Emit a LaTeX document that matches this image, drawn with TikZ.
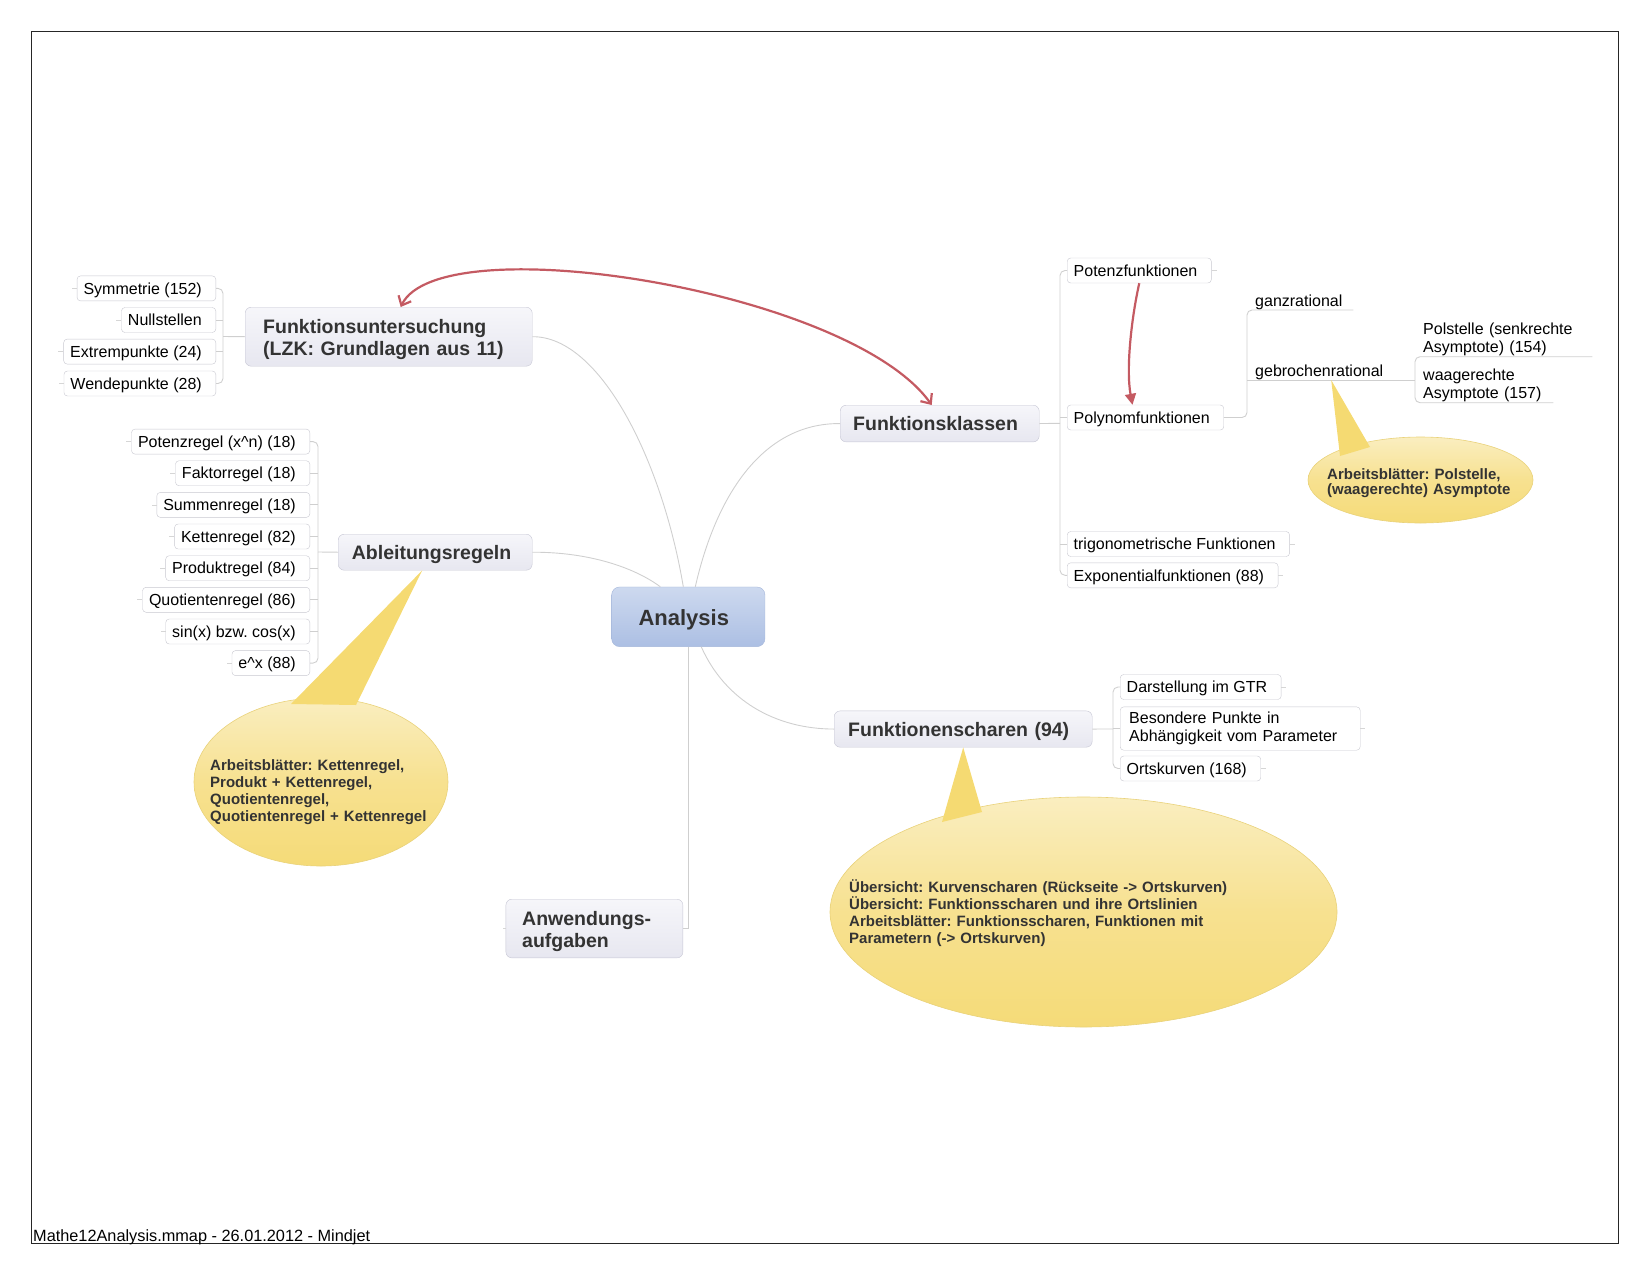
\documentclass[tikz,border=0pt]{standalone}
\usepackage{fontspec}
\setmainfont{Liberation Sans}
\frenchspacing
\usetikzlibrary{shapes.geometric,arrows.meta,calc}
\definecolor{txt}{HTML}{333333}
\definecolor{conncol}{HTML}{CFCFCF}
\definecolor{stubcol}{HTML}{D6D6D6}
\definecolor{subborder}{HTML}{C8C8D0}
\definecolor{mainborder}{HTML}{C6C6D4}
\definecolor{maintop}{HTML}{F6F6FA}
\definecolor{mainbot}{HTML}{E7E7F0}
\definecolor{roottop}{HTML}{CDD9EF}
\definecolor{rootbot}{HTML}{ACBFE3}
\definecolor{rootborder}{HTML}{A4B6DA}
\definecolor{calltop}{HTML}{FAEEC0}
\definecolor{callmid}{HTML}{F7E190}
\definecolor{callbot}{HTML}{F5DB78}
\definecolor{callborder}{HTML}{E9D27A}
\definecolor{wedgecol}{HTML}{F5DA72}
\definecolor{redline}{HTML}{C45A62}
\newcommand\fMain{\fontsize{19.5}{22}\selectfont\bfseries}
\newcommand\fSub{\fontsize{16}{18}\selectfont}
\newcommand\fCall{\fontsize{15}{17}\selectfont\bfseries}
\newcommand\fCallB{\fontsize{15}{15.5}\selectfont\bfseries}
\newcommand\fRoot{\fontsize{22}{24}\selectfont\bfseries}
\newcommand\fFoot{\fontsize{16.3}{18}\selectfont}
\begin{document}
\begin{tikzpicture}[x=1pt,y=-1pt,
  conn/.style={draw=conncol,line width=0.9pt},
  stub/.style={draw=stubcol,line width=0.8pt},
  subbox/.style={draw=subborder,fill=white,rounded corners=3.5pt,minimum height=25pt,
    inner ysep=0pt,inner xsep=6.5pt,text height=12.5pt,text depth=1pt,font=\fSub,text=black,
    execute at end node={\kern7.5pt}},
  subtwo/.style={draw=subborder,fill=white,rounded corners=3.5pt,inner ysep=0pt,
    inner xsep=9pt,font=\fSub,text=black,align=left,anchor=north west},
  mainbox/.style={draw=mainborder,top color=maintop,bottom color=mainbot,rounded corners=6pt,
    anchor=north west,align=left,font=\fMain,text=txt,inner ysep=0pt},
  root/.style={draw=rootborder,top color=roottop,bottom color=rootbot,rounded corners=8pt,
    minimum width=153.3pt,minimum height=59.7pt,font=\fRoot,text=txt,inner sep=0pt},
  uline/.style={anchor=south west,font=\fSub,text=black,align=left,inner xsep=8pt},
  callout/.style={ellipse,draw=callborder,line width=0.6pt,top color=calltop,bottom color=callbot,
    middle color=callmid,inner sep=0pt},
  wedge/.style={fill=wedgecol},
  calltext/.style={font=\fCall,text=txt,inner sep=0pt,anchor=base west,align=left},
  redarrow/.style={draw=redline,line width=2.2pt}
]
\useasboundingbox (0,0) rectangle (1650,1275);
\draw[line width=1.3pt,draw=black!85] (31.6,31.6) rectangle (1618.5,1243.8);

% root
\node[root] (an0) at (688.3,616.8) {\rule{0pt}{22pt}Analysis\kern9pt};

% main topics
\node[mainbox,inner xsep=18pt,text width=251pt,minimum height=59pt] (fu) at (245,307)
  {\rule{0pt}{19pt}Funktionsuntersuchung\\(LZK: Grundlagen aus 11)};
\node[mainbox,inner xsep=13pt,text width=173pt,minimum height=36.7pt,text depth=0pt] (fk) at (840,405) {Funktionsklassen};
\node[mainbox,inner xsep=13.7pt,text width=166.6pt,minimum height=36pt,text depth=0pt] (ab) at (338,534) {Ableitungsregeln};
\node[mainbox,inner xsep=14pt,text width=230pt,minimum height=36.3pt,text depth=0pt] (fs) at (834,710.7) {Funktionenscharen (94)};
\node[mainbox,inner xsep=16.3pt,text width=144.4pt,minimum height=58.7pt] (aw) at (505.7,899)
  {\rule{0pt}{20pt}Anwendungs-\\aufgaben};

% group 1
\node[subbox,anchor=east] (sy) at (216,288.4) {Symmetrie (152)};
\node[subbox,anchor=east] (nu) at (216,320.0) {Nullstellen};
\node[subbox,anchor=east] (ep) at (216,351.6) {Extrempunkte (24)};
\node[subbox,anchor=east] (wp) at (216,383.5) {Wendepunkte (28)};
\coordinate (b1) at (223,336.5);

% group 2
\node[subbox,anchor=east] (r1) at (310,441.6) {Potenzregel (x\textasciicircum n) (18)};
\node[subbox,anchor=east] (r2) at (310,473.2) {Faktorregel (18)};
\node[subbox,anchor=east] (r3) at (310,504.9) {Summenregel (18)};
\node[subbox,anchor=east] (r4) at (310,536.5) {Kettenregel (82)};
\node[subbox,anchor=east] (r5) at (310,568.2) {Produktregel (84)};
\node[subbox,anchor=east] (r6) at (310,599.8) {Quotientenregel (86)};
\node[subbox,anchor=east] (r7) at (310,631.5) {sin(x) bzw. cos(x)};
\node[subbox,anchor=east] (r8) at (310,663.1) {e\textasciicircum x (88)};
\coordinate (b2) at (318,552);

% group 3
\node[subbox,anchor=west] (pz) at (1067,270.5) {Potenzfunktionen};
\node[subbox,anchor=west] (po) at (1067,417.5) {Polynomfunktionen};
\node[subbox,anchor=west] (tr) at (1067,544.0) {trigonometrische Funktionen};
\node[subbox,anchor=west] (xf) at (1067,575.3) {Exponentialfunktionen (88)};
\coordinate (b3) at (1060,423.3);

% group 4
\node[subbox,anchor=west] (dg) at (1120,687) {Darstellung im GTR};
\node[subtwo,text width=222pt,minimum height=43.3pt] (bp) at (1120,706.7)
  {Besondere Punkte in\\Abhängigkeit vom Parameter};
\node[subbox,anchor=west] (ok) at (1120,768.5) {Ortskurven (168)};
\coordinate (b4) at (1113,729);

% polynom children (underlined)
\node[uline,text width=90pt,text depth=0pt,inner ysep=3.3pt] (ga) at (1247,310) {ganzrational};
\node[uline,text width=152pt,text depth=0pt,inner ysep=3.3pt] (ge) at (1247,380) {gebrochenrational};
\node[uline,text width=161pt,inner ysep=0.3pt] (pol) at (1415,356.7) {Polstelle (senkrechte\\Asymptote) (154)};
\node[uline,text width=122pt,inner ysep=0.3pt] (wa) at (1415,402.7) {waagerechte\\Asymptote (157)};

% brackets
\draw[conn,rounded corners=5pt] (sy.east) -| (b1);
\draw[conn,rounded corners=5pt] (wp.east) -| (b1);
\draw[conn] (nu.east) -- (nu.east -| b1);
\draw[conn] (ep.east) -- (ep.east -| b1);
\draw[conn] (b1) -- (fu.west);

\draw[conn,rounded corners=5pt] (r1.east) -| (b2);
\draw[conn,rounded corners=5pt] (r8.east) -| (b2);
\foreach \n in {r2,r3,r4,r5,r6,r7} \draw[conn] (\n.east) -- (\n.east -| b2);
\draw[conn] (b2) -- (ab.west);

\draw[conn,rounded corners=5pt] (pz.west) -| (b3);
\draw[conn,rounded corners=5pt] (xf.west) -| (b3);
\draw[conn] (po.west) -- (po.west -| b3);
\draw[conn] (tr.west) -- (tr.west -| b3);
\draw[conn] (fk.east) -- (b3);

\draw[conn,rounded corners=5pt] (dg.west) -| (b4);
\draw[conn,rounded corners=5pt] (ok.west) -| (b4);
\draw[conn] (bp.west) -- (bp.west -| b4);
\draw[conn] (fs.east) -- (b4);

\draw[conn,rounded corners=5pt] (po.east) -| (ga.south west) -- (ga.south east);
\draw[conn] (ge.south west) -- (ge.south east);
\draw[conn,rounded corners=5pt] (pol.south east) -- (pol.south west) |- (wa.south east);

% stubs
\foreach \n in {sy,nu,ep,wp,r1,r2,r3,r4,r5,r6,r7,r8} \draw[stub] (\n.west) -- ++(-5,0);
\foreach \n in {pz,tr,xf,dg,bp,ok} \draw[stub] (\n.east) -- ++(5,0);
\draw[stub] (aw.west) -- ++(-3,0);

% main connectors
\draw[conn] (fu.east) .. controls (600,336) and (662,460) .. ($(an0.north)+(-5,0)$);
\draw[conn] ($(an0.north)+(7,0)$) .. controls (715,500) and (760,423) .. (fk.west);
\draw[conn] (ab.east) .. controls (590,552) and (635,568) .. ($(an0.north)+(-28,0)$);
\draw[conn] ($(an0.south)+(13,0)$) .. controls (725,700) and (775,729) .. (fs.west);
\draw[conn] (an0.south) |- (aw.east);

% callouts
\node[callout,minimum width=254pt,minimum height=168pt] (c1) at (321,782) {};
\fill[wedge] ($(ab.south)+(-13,0)$) -- (291,704) -- (356,705) -- cycle;
\node[calltext,text width=240pt] (c1t) at (210,770)
  {Arbeitsblätter: Kettenregel,\\Produkt + Kettenregel,\\Quotientenregel,\\Quotientenregel + Kettenregel};

\node[callout,minimum width=225pt,minimum height=86pt] (c2) at (1420.5,480) {};
\fill[wedge] (ge.south) -- (1340,456) -- (1370,447) -- cycle;
\node[calltext,font=\fCallB,text width=200pt] (c2t) at (1327,479)
  {Arbeitsblätter: Polstelle,\\(waagerechte) Asymptote};

\node[callout,minimum width=507pt,minimum height=230pt] (c3) at (1083.5,912) {};
\fill[wedge] (fs.south) -- (942,822) -- (982,812) -- cycle;
\node[calltext,text width=440pt] (c3t) at (849,892)
  {Übersicht: Kurvenscharen (Rückseite -> Ortskurven)\\Übersicht: Funktionsscharen und ihre Ortslinien\\Arbeitsblätter: Funktionsscharen, Funktionen mit\\Parametern (-> Ortskurven)};

% relation arrows
\draw[redarrow,{Straight Barb[length=8pt,width=14pt]}-{Straight Barb[length=8pt,width=14pt]}]
  ($(fk.north)+(-8,0)$) .. controls (850,290) and (440,225) .. ($(fu.north)+(12,0)$);
\draw[redarrow,-{Triangle[length=11pt,width=11pt]}]
  (pz.south) .. controls (1131,320) and (1126,370) .. ($(po.north)+(-13,0)$);

% footer
\node[font=\fFoot,anchor=base west,inner sep=0pt] (foot) at (33,1241) {Mathe12Analysis.mmap - 26.01.2012 - Mindjet};
\end{tikzpicture}
\end{document}
